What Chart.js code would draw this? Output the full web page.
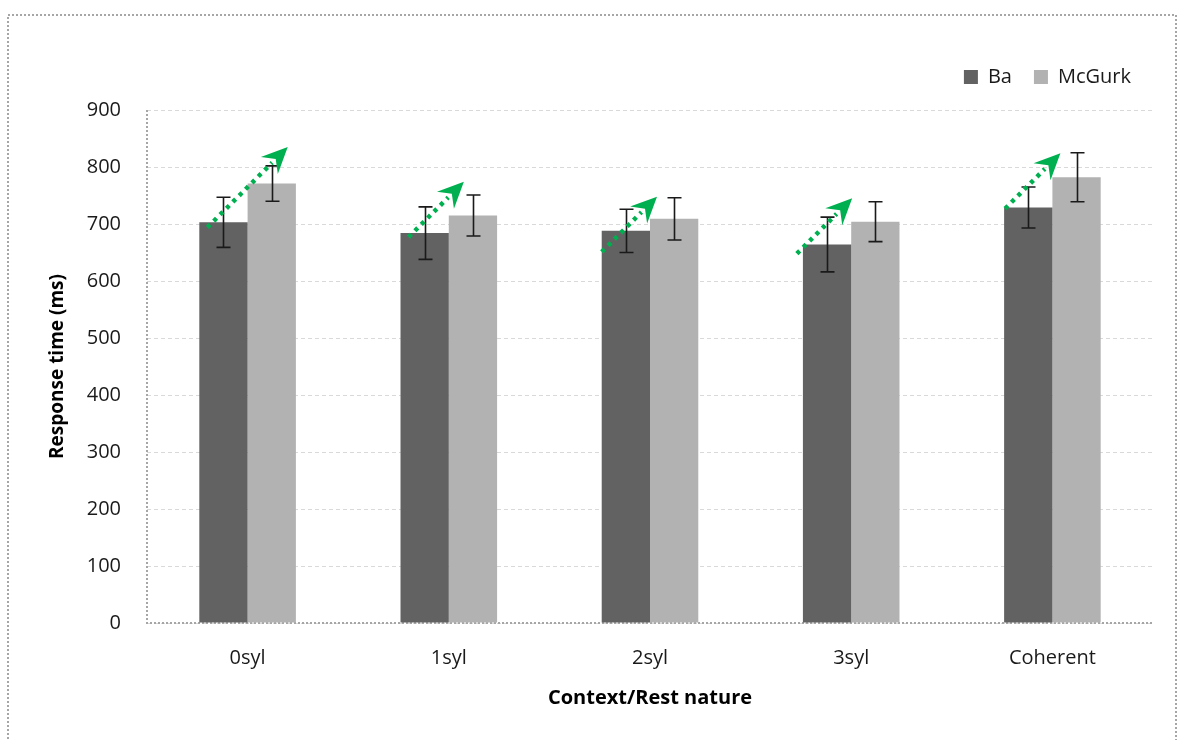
<!DOCTYPE html>
<html lang="en">
<head>
    <meta charset="UTF-8">
    <title>Response time</title>
    <style>
        body { margin: 0; padding: 0; background: #fff; }
        #wrap { width: 1178px; height: 740px; }
    </style>
</head>
<body>
    <div id="wrap"><canvas id="chart" width="1178" height="740"></canvas></div>

    <script src="https://cdn.jsdelivr.net/npm/chart.js"></script>
    <script>
        // data
        const categories = ['0syl', '1syl', '2syl', '3syl', 'Coherent'];
        const baValues = [703, 684, 688, 664, 729];
        const mcgurkValues = [771, 715, 709, 704, 782];
        const baErrors = [44, 46, 38, 48, 36];
        const mcgurkErrors = [31, 36, 37, 35, 43];
        const yTicks = [0, 100, 200, 300, 400, 500, 600, 700, 800, 900];
        // green arrows: value at tail and at head
        const arrowFrom = [694, 677, 651, 648, 727];
        const arrowTo = [835, 774, 748, 745, 824];

        const font = "'Open Sans', sans-serif";

        // error bars drawn on top of each bar
        const errorBars = {
            id: 'errorBars',
            afterDatasetsDraw(chart) {
                const ctx = chart.ctx;
                const y = chart.scales.y;
                const errs = [baErrors, mcgurkErrors];
                ctx.save();
                ctx.strokeStyle = '#1a1a1a';
                ctx.lineWidth = 1.6;
                chart.data.datasets.forEach((ds, di) => {
                    chart.getDatasetMeta(di).data.forEach((bar, i) => {
                        const v = ds.data[i];
                        const top = y.getPixelForValue(v + errs[di][i]);
                        const bot = y.getPixelForValue(v - errs[di][i]);
                        const x = Math.round(bar.x) + 0.5;
                        ctx.beginPath();
                        ctx.moveTo(x, top); ctx.lineTo(x, bot);
                        ctx.moveTo(x - 7, top); ctx.lineTo(x + 7, top);
                        ctx.moveTo(x - 7, bot); ctx.lineTo(x + 7, bot);
                        ctx.stroke();
                    });
                });
                ctx.restore();
            }
        };

        // dotted green arrows + dotted axis lines + outer frame
        const extras = {
            id: 'extras',
            beforeInit(chart) {
                // leave a bit more room under the legend
                const fit = chart.legend.fit;
                chart.legend.fit = function () {
                    fit.call(this);
                    this.height += 13;
                };
            },
            beforeDatasetsDraw(chart) {
                const ctx = chart.ctx;
                const a = chart.chartArea;
                ctx.save();
                ctx.strokeStyle = '#a6a6a6';
                ctx.lineWidth = 2;
                ctx.setLineDash([2, 2]);
                ctx.beginPath();
                ctx.moveTo(a.left, a.top); ctx.lineTo(a.left, a.bottom);
                ctx.lineTo(a.right, a.bottom);
                ctx.stroke();
                ctx.beginPath();
                ctx.rect(8, 15, 1168, 740);
                ctx.stroke();
                ctx.restore();
            },
            afterDraw(chart) {
                const ctx = chart.ctx;
                const x = chart.scales.x;
                const y = chart.scales.y;
                const step = x.getPixelForValue(1) - x.getPixelForValue(0);
                const tailOff = [-0.2, -0.2, -0.24, -0.27, -0.235];
                ctx.save();
                ctx.strokeStyle = '#00b050';
                ctx.fillStyle = '#00b050';
                categories.forEach((c, i) => {
                    const cx = x.getPixelForValue(i);
                    const y0 = y.getPixelForValue(arrowFrom[i]);
                    const y1 = y.getPixelForValue(arrowTo[i]);
                    const x0 = cx + tailOff[i] * step;
                    const x1 = x0 + (y0 - y1);
                    const ang = Math.atan2(y1 - y0, x1 - x0);
                    const len = 26;
                    const bx = x1 - Math.cos(ang) * (len - 4);
                    const by = y1 - Math.sin(ang) * (len - 4);
                    ctx.lineWidth = 4.5;
                    ctx.setLineDash([4, 5]);
                    ctx.beginPath();
                    ctx.moveTo(x0, y0); ctx.lineTo(bx, by);
                    ctx.stroke();
                    ctx.setLineDash([]);
                    // arrow head
                    const px = -Math.sin(ang), py = Math.cos(ang);
                    const hx = x1 - Math.cos(ang) * len, hy = y1 - Math.sin(ang) * len;
                    ctx.beginPath();
                    ctx.moveTo(x1, y1);
                    ctx.lineTo(hx + px * 12, hy + py * 12);
                    ctx.lineTo(x1 - Math.cos(ang) * (len - 9), y1 - Math.sin(ang) * (len - 9));
                    ctx.lineTo(hx - px * 12, hy - py * 12);
                    ctx.closePath();
                    ctx.fill();
                });
                ctx.restore();
            }
        };

        const ctx = document.getElementById('chart').getContext('2d');
        new Chart(ctx, {
            type: 'bar',
            data: {
                labels: categories,
                datasets: [
                    { label: 'Ba', data: baValues, backgroundColor: '#626262' },
                    { label: 'McGurk', data: mcgurkValues, backgroundColor: '#b2b2b2' }
                ]
            },
            options: {
                responsive: false,
                animation: false,
                categoryPercentage: 0.48,
                barPercentage: 1.0,
                layout: { padding: { left: 42, right: 25, top: 45, bottom: 26 } },
                plugins: {
                    legend: {
                        position: 'top',
                        align: 'end',
                        labels: {
                            boxWidth: 14,
                            boxHeight: 14,
                            padding: 22,
                            color: '#1a1a1a',
                            font: { family: font, size: 20 }
                        }
                    },
                    tooltip: { enabled: false }
                },
                scales: {
                    x: {
                        afterFit(scale) { scale.height = 91; },
                        grid: { display: false },
                        border: { display: false },
                        ticks: { color: '#1a1a1a', padding: 15, font: { family: font, size: 20 } },
                        title: {
                            display: true,
                            text: 'Context/Rest nature',
                            color: '#000',
                            font: { family: font, size: 20, weight: 'bold' }
                        }
                    },
                    y: {
                        min: 0,
                        max: 900,
                        afterFit(scale) { scale.width = 105; },
                        afterBuildTicks(scale) { scale.ticks = yTicks.map(v => ({ value: v })); },
                        grid: { color: '#d9d9d9', lineWidth: 1, drawTicks: false },
                        border: { display: false, dash: [4, 3] },
                        ticks: { color: '#1a1a1a', padding: 26, font: { family: font, size: 20 } },
                        title: {
                            display: true,
                            text: 'Response time (ms)',
                            color: '#000',
                            font: { family: font, size: 19, weight: 'bold' }
                        }
                    }
                }
            },
            plugins: [errorBars, extras]
        });
    </script>
</body>
</html>
